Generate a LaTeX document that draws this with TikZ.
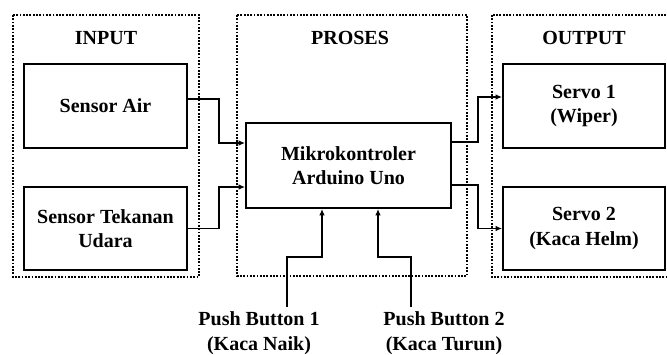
\documentclass[tikz,border=0pt]{standalone}
\usepackage{fontspec}
\setmainfont{Liberation Serif}
\usetikzlibrary{arrows.meta, positioning, calc}
\tikzset{
  every picture/.style={font=\bfseries\fontsize{20}{24.5}\selectfont, line width=1.8pt},
  block/.style={draw=black, fill=white, align=center, inner sep=0pt, minimum width=#1, minimum height=84pt},
  block/.default=163pt,
  frame/.style={draw=black, line width=1.8pt, dash pattern=on 1.8pt off 1.5pt},
  arrow/.style={-{Latex[length=6.5pt, width=5.5pt]}, draw=black, line width=1.8pt},
  title/.style={align=center},
  label/.style={align=center},
}
\begin{document}
\begin{tikzpicture}[x=1pt, y=-1pt]
  \useasboundingbox (0,0) rectangle (667,354);
  \clip (0,0) rectangle (667,354);
  % dotted groups
  \draw[frame] (13,15) rectangle (199,277);
  \draw[frame] (237,15) rectangle (467,276);
  \draw[frame] (492,15) rectangle (690,277);
  \node[title] (tin) at (106,38) {INPUT};
  \node[title] (tpro) at (350,38) {PROSES};
  \node[title] (tout) at (584,38) {OUTPUT};
  % blocks
  \node[block] (air) at (105.5,106) {Sensor Air};
  \node[block, minimum height=83pt] (tekanan) at (105.5,228.5) {Sensor Tekanan\\Udara};
  \node[block=205pt, minimum height=85pt] (mcu) at (348.5,165.5) {Mikrokontroler\\Arduino Uno};
  \node[block=162pt] (servo1) at (584,106) {Servo 1\\(Wiper)};
  \node[block=162pt, minimum height=83pt] (servo2) at (584,228.5) {Servo 2\\(Kaca Helm)};
  \node[label] (pb1) at (259,333) {Push Button 1\\(Kaca Naik)};
  \node[label] (pb2) at (444,333) {Push Button 2\\(Kaca Turun)};
  \coordinate (pb1top) at (287,307);
  \coordinate (pb2top) at (411,307);
  % connectors
  \draw[arrow] ([yshift=7pt]air.east) -- ++(31,0) |- ([yshift=22.5pt]mcu.west);
  \draw[arrow] (tekanan.east) -- ++(31,0) |- ([yshift=-21.5pt]mcu.west);
  \draw[arrow] ([yshift=23.5pt]mcu.east) -- ++(26,0) |- ([yshift=9pt]servo1.west);
  \draw[arrow] ([yshift=-19.5pt]mcu.east) -- ++(26,0) |- (servo2.west);
  \draw[arrow] (pb1top) -- ++(0,-50) -| ([xshift=-26.5pt]mcu.south);
  \draw[arrow] (pb2top) -- ++(0,-50) -| ([xshift=29.5pt]mcu.south);
\end{tikzpicture}
\end{document}
